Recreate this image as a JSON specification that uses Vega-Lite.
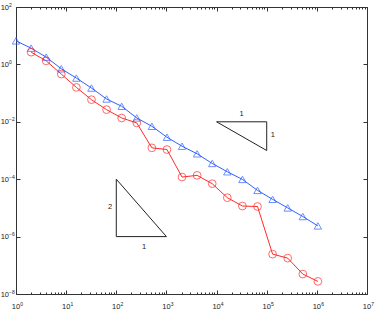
{
  "$schema": "https://vega.github.io/schema/vega-lite/v6.json",
  "autosize": "none",
  "width": 351,
  "height": 287,
  "padding": {"left": 16, "top": 7, "right": 7, "bottom": 18},
  "background": "white",
  "config": {
    "view": {"stroke": null},
    "axis": {"labelFont": "Liberation Sans", "labelFontSize": 7.5, "labelColor": "#222", "domainColor": "#333", "tickColor": "#333", "grid": false, "title": null, "labelOverlap": false, "labelFlush": false}
  },
  "datasets": {
    "series": [
      {"s": "blue", "x": 1, "y": 6.61},
      {"s": "blue", "x": 2, "y": 3.68},
      {"s": "blue", "x": 4, "y": 1.79},
      {"s": "blue", "x": 8, "y": 0.703},
      {"s": "blue", "x": 16, "y": 0.334},
      {"s": "blue", "x": 32, "y": 0.150},
      {"s": "blue", "x": 64, "y": 0.0624},
      {"s": "blue", "x": 128, "y": 0.0347},
      {"s": "blue", "x": 256, "y": 0.01365},
      {"s": "blue", "x": 512, "y": 0.00698},
      {"s": "blue", "x": 1024, "y": 0.0029},
      {"s": "blue", "x": 2048, "y": 0.00141},
      {"s": "blue", "x": 4096, "y": 0.000767},
      {"s": "blue", "x": 8192, "y": 0.000354},
      {"s": "blue", "x": 16384, "y": 0.000182},
      {"s": "blue", "x": 32768, "y": 0.0000984},
      {"s": "blue", "x": 65536, "y": 0.0000408},
      {"s": "blue", "x": 131072, "y": 0.0000199},
      {"s": "blue", "x": 262144, "y": 0.0000100},
      {"s": "blue", "x": 524288, "y": 0.00000501},
      {"s": "blue", "x": 1048576, "y": 0.00000236},
      {"s": "red", "x": 2, "y": 2.67},
      {"s": "red", "x": 4, "y": 1.33},
      {"s": "red", "x": 8, "y": 0.459},
      {"s": "red", "x": 16, "y": 0.158},
      {"s": "red", "x": 32, "y": 0.059},
      {"s": "red", "x": 64, "y": 0.0265},
      {"s": "red", "x": 128, "y": 0.0136},
      {"s": "red", "x": 256, "y": 0.00912},
      {"s": "red", "x": 512, "y": 0.00124},
      {"s": "red", "x": 1024, "y": 0.00108},
      {"s": "red", "x": 2048, "y": 0.000119},
      {"s": "red", "x": 4096, "y": 0.000136},
      {"s": "red", "x": 8192, "y": 0.0000697},
      {"s": "red", "x": 16384, "y": 0.0000227},
      {"s": "red", "x": 32768, "y": 0.0000116},
      {"s": "red", "x": 65536, "y": 0.0000112},
      {"s": "red", "x": 131072, "y": 0.000000245},
      {"s": "red", "x": 262144, "y": 0.000000178},
      {"s": "red", "x": 524288, "y": 0.0000000494},
      {"s": "red", "x": 1048576, "y": 0.0000000275}
    ],
    "tri": [
      {"t": "A", "o": 0, "x": 10000, "y": 0.01},
      {"t": "A", "o": 1, "x": 100000, "y": 0.01},
      {"t": "A", "o": 2, "x": 100000, "y": 0.001},
      {"t": "A", "o": 3, "x": 10000, "y": 0.01},
      {"t": "B", "o": 0, "x": 100, "y": 0.0001},
      {"t": "B", "o": 1, "x": 100, "y": 0.000001},
      {"t": "B", "o": 2, "x": 1000, "y": 0.000001},
      {"t": "B", "o": 3, "x": 100, "y": 0.0001}
    ],
    "labels": [
      {"txt": "1", "x": 31623, "y": 0.0186},
      {"txt": "1", "x": 132000, "y": 0.00355},
      {"txt": "2", "x": 75, "y": 0.0000105},
      {"txt": "1", "x": 357, "y": 0.00000043}
    ]
  },
  "resolve": {"axis": {"x": "independent", "y": "independent"}},
  "layer": [
    {
      "data": {"name": "series"},
      "transform": [{"filter": "datum.s === 'blue'"}],
      "mark": {"type": "line", "color": "#3060ff", "strokeWidth": 1},
      "encoding": {
        "x": {"field": "x", "type": "quantitative",
          "scale": {"type": "log", "domain": [1, 10000000], "nice": false},
          "axis": {"orient": "bottom", "domain": true, "labels": false,
            "values": [1,2,3,4,5,6,7,8,9,10,20,30,40,50,60,70,80,90,100,200,300,400,500,600,700,800,900,1000,2000,3000,4000,5000,6000,7000,8000,9000,10000,20000,30000,40000,50000,60000,70000,80000,90000,100000,200000,300000,400000,500000,600000,700000,800000,900000,1000000,2000000,3000000,4000000,5000000,6000000,7000000,8000000,9000000,10000000],
            "tickSize": {"condition": {"test": "abs(log(datum.value)/LN10 - round(log(datum.value)/LN10)) < 0.001", "value": -4}, "value": -2}}},
        "y": {"field": "y", "type": "quantitative",
          "scale": {"type": "log", "domain": [0.00000001, 100], "nice": false},
          "axis": {"orient": "left", "domain": true, "labels": false, "tickSize": -4,
            "values": [0.00000001, 0.000001, 0.0001, 0.01, 1, 100]}}
      }
    },
    {
      "data": {"name": "series"},
      "transform": [{"filter": "datum.s === 'red'"}],
      "mark": {"type": "line", "color": "#ff2a2a", "strokeWidth": 1},
      "encoding": {
        "x": {"field": "x", "type": "quantitative",
          "axis": {"orient": "top", "domain": true, "labels": false,
            "values": [1,2,3,4,5,6,7,8,9,10,20,30,40,50,60,70,80,90,100,200,300,400,500,600,700,800,900,1000,2000,3000,4000,5000,6000,7000,8000,9000,10000,20000,30000,40000,50000,60000,70000,80000,90000,100000,200000,300000,400000,500000,600000,700000,800000,900000,1000000,2000000,3000000,4000000,5000000,6000000,7000000,8000000,9000000,10000000],
            "tickSize": {"condition": {"test": "abs(log(datum.value)/LN10 - round(log(datum.value)/LN10)) < 0.001", "value": -4}, "value": -2}}},
        "y": {"field": "y", "type": "quantitative",
          "axis": {"orient": "right", "domain": true, "labels": false, "tickSize": -4,
            "values": [0.00000001, 0.000001, 0.0001, 0.01, 1, 100]}}
      }
    },
    {
      "data": {"name": "series"},
      "transform": [{"filter": "datum.s === 'blue'"}],
      "mark": {"type": "point", "shape": "triangle-up", "filled": false, "color": "#3060ff", "size": 55, "strokeWidth": 1},
      "encoding": {
        "x": {"field": "x", "type": "quantitative",
          "axis": {"orient": "bottom", "domain": false, "ticks": false,
            "values": [1, 10, 100, 1000, 10000, 100000, 1000000, 10000000],
            "labelAlign": "center", "labelBaseline": "top", "labelPadding": 8, "labelOffset": -0.5,
            "labelExpr": "'10'"}},
        "y": {"field": "y", "type": "quantitative",
          "axis": {"orient": "left", "domain": false, "ticks": false,
            "values": [0.00000001, 0.000001, 0.0001, 0.01, 1, 100],
            "labelAlign": "right", "labelBaseline": "middle", "labelPadding": 7.5,
            "labelExpr": "'10'"}}
      }
    },
    {
      "data": {"name": "series"},
      "transform": [{"filter": "datum.s === 'red'"}],
      "mark": {"type": "point", "shape": "circle", "filled": false, "color": "#ff2a2a", "size": 60, "strokeWidth": 1},
      "encoding": {
        "x": {"field": "x", "type": "quantitative",
          "axis": {"orient": "bottom", "domain": false, "ticks": false,
            "values": [1, 10, 100, 1000, 10000, 100000, 1000000, 10000000],
            "labelAlign": "left", "labelBaseline": "top", "labelPadding": 7, "labelOffset": 3.8, "labelFontSize": 5,
            "labelExpr": "'' + round(log(datum.value)/LN10)"}},
        "y": {"field": "y", "type": "quantitative",
          "axis": {"orient": "left", "domain": false, "ticks": false,
            "values": [0.00000001, 0.000001, 0.0001, 0.01, 1, 100],
            "labelAlign": "left", "labelBaseline": "middle", "labelPadding": 7.5, "labelOffset": -3, "labelFontSize": 5,
            "labelExpr": "replace('' + round(log(datum.value)/LN10), '-', '−')"}}
      }
    },
    {
      "data": {"name": "tri"},
      "mark": {"type": "line", "color": "#222", "strokeWidth": 1},
      "encoding": {
        "x": {"field": "x", "type": "quantitative", "axis": null},
        "y": {"field": "y", "type": "quantitative", "axis": null},
        "detail": {"field": "t"},
        "order": {"field": "o"}
      }
    },
    {
      "data": {"name": "labels"},
      "mark": {"type": "text", "font": "Liberation Sans", "fontSize": 7.5, "color": "#222", "align": "center", "baseline": "middle"},
      "encoding": {
        "x": {"field": "x", "type": "quantitative", "axis": null},
        "y": {"field": "y", "type": "quantitative", "axis": null},
        "text": {"field": "txt"}
      }
    }
  ]
}
